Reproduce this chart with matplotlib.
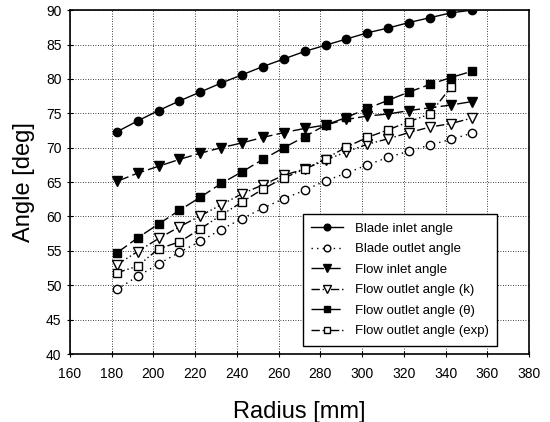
import matplotlib
matplotlib.use("Agg")
import matplotlib.pyplot as plt

plt.rcParams['font.family'] = ['Liberation Sans', 'DejaVu Sans']

radius = [182.5, 192.5, 202.5, 212.5, 222.5, 232.5, 242.5, 252.5, 262.5,
          272.5, 282.5, 292.5, 302.5, 312.5, 322.5, 332.5, 342.5, 352.5]
blade_inlet = [72.3, 73.9, 75.4, 76.8, 78.1, 79.4, 80.6, 81.8, 82.9, 84.0,
               84.9, 85.8, 86.7, 87.4, 88.2, 88.9, 89.6, 90.0]
blade_outlet = [49.4, 51.3, 53.1, 54.8, 56.4, 58.1, 59.7, 61.2, 62.6, 63.8,
                65.2, 66.3, 67.5, 68.6, 69.5, 70.4, 71.2, 72.1]
flow_inlet = [65.1, 66.3, 67.3, 68.3, 69.2, 70.0, 70.7, 71.5, 72.2, 72.8,
              73.3, 74.1, 74.6, 74.9, 75.4, 75.8, 76.2, 76.7]
flow_k = [53.0, 54.9, 56.8, 58.5, 60.1, 61.7, 63.3, 64.6, 66.0, 66.9,
          68.2, 69.4, 70.5, 71.3, 72.2, 73.0, 73.5, 74.3]
flow_theta = [54.7, 56.9, 58.9, 60.9, 62.8, 64.8, 66.5, 68.3, 70.0, 71.6,
              73.3, 74.4, 75.7, 76.9, 78.1, 79.2, 80.2, 81.1]
radius_exp = radius[:17]
flow_exp = [51.8, 52.8, 55.3, 56.3, 58.2, 60.2, 62.1, 64.0, 65.6, 66.9,
            68.4, 70.1, 71.5, 72.6, 73.8, 74.9, 78.8]

labels = ["Blade inlet angle", "Blade outlet angle", "Flow inlet angle",
          "Flow outlet angle (k)", "Flow outlet angle (\u03b8)", "Flow outlet angle (exp)"]

fig = plt.figure(figsize=(5.5, 4.22), dpi=100)
ax = fig.add_axes([0.127, 0.161, 0.835, 0.815])

ms = 6
lw = 1.0
ax.plot(radius, blade_inlet, color='black', lw=lw, ls='-', marker='o', ms=ms,
        mfc='black', mec='black', label=labels[0])
ax.plot(radius, blade_outlet, color='black', lw=lw, ls=(0, (1, 3)), marker='o', ms=ms,
        mfc='white', mec='black', label=labels[1])
ax.plot(radius, flow_inlet, color='black', lw=lw, ls=(0, (9, 3)), marker='v', ms=ms + 1,
        mfc='black', mec='black', label=labels[2])
ax.plot(radius, flow_k, color='black', lw=lw, ls=(0, (6, 2, 1, 2, 1, 2)), marker='v', ms=ms + 1,
        mfc='white', mec='black', label=labels[3])
ax.plot(radius, flow_theta, color='black', lw=lw, ls=(0, (9, 3)), marker='s', ms=ms,
        mfc='black', mec='black', label=labels[4])
ax.plot(radius_exp, flow_exp, color='black', lw=lw, ls=(0, (6, 2, 1, 2, 1, 2)), marker='s', ms=ms,
        mfc='white', mec='black', label=labels[5])

ax.set_xlim(160, 380)
ax.set_ylim(40, 90)
ax.set_xticks(range(160, 381, 20))
ax.set_yticks(range(40, 91, 5))
ax.grid(True, color='black', ls=(0, (1, 2)), lw=0.6)
ax.tick_params(direction='inout', length=5, width=0.8, labelsize=10, colors='black')
ax.tick_params(axis='x', pad=7)
for s in ax.spines.values():
    s.set_linewidth(1.2)
    s.set_color('black')

ax.set_xlabel("Radius [mm]", fontsize=17, labelpad=14)
ax.set_ylabel("Angle [deg]", fontsize=17, labelpad=8)

leg = ax.legend(loc='lower right', bbox_to_anchor=(0.945, 0.005), fontsize=9.5,
                frameon=True, fancybox=False, edgecolor='black', framealpha=1,
                handlelength=2.4, labelspacing=0.62, borderpad=0.65, markerscale=0.8,
                handletextpad=0.9)
leg.get_frame().set_linewidth(1.0)

fig.savefig("out.png", dpi=100)
